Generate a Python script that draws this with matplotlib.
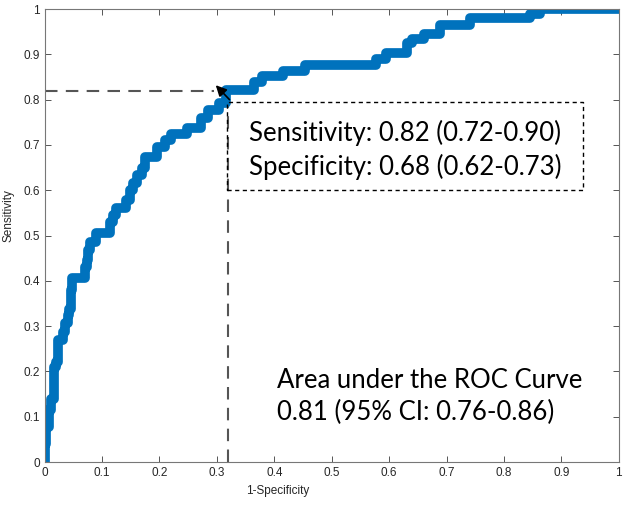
import numpy as np
import matplotlib
matplotlib.use("Agg")
import matplotlib.pyplot as plt
from matplotlib.patches import Rectangle

# ROC curve (step levels, held until next x)
fpr = [0.000, 0.001, 0.003, 0.007, 0.011, 0.016, 0.019, 0.023, 0.032, 0.036,
       0.040, 0.042, 0.046, 0.048, 0.071, 0.073, 0.076, 0.079, 0.090, 0.113,
       0.119, 0.125, 0.142, 0.148, 0.153, 0.160, 0.170, 0.174, 0.196, 0.210,
       0.220, 0.248, 0.272, 0.285, 0.304, 0.315, 0.364, 0.378, 0.416, 0.454,
       0.577, 0.594, 0.632, 0.640, 0.660, 0.688, 0.741, 0.845, 0.862, 1.000]
tpr = [0.000, 0.040, 0.077, 0.115, 0.140, 0.210, 0.220, 0.270, 0.288, 0.307,
       0.325, 0.337, 0.380, 0.406, 0.430, 0.447, 0.468, 0.485, 0.505, 0.530,
       0.545, 0.560, 0.578, 0.600, 0.615, 0.634, 0.650, 0.673, 0.696, 0.710,
       0.725, 0.737, 0.760, 0.777, 0.792, 0.822, 0.840, 0.852, 0.864, 0.876,
       0.890, 0.902, 0.925, 0.935, 0.946, 0.965, 0.980, 0.990, 1.000, 1.000]

cut_x = 0.32
cut_y = 0.82
ticks = [0, 0.1, 0.2, 0.3, 0.4, 0.5, 0.6, 0.7, 0.8, 0.9, 1]
tick_labels = ["0", "0.1", "0.2", "0.3", "0.4", "0.5", "0.6", "0.7", "0.8", "0.9", "1"]

box_lines = ["Sensitivity: 0.82 (0.72-0.90)", "Specificity: 0.68 (0.62-0.73)"]
auc_lines = ["Area under the ROC Curve", "0.81 (95% CI: 0.76-0.86)"]

fig = plt.figure(figsize=(6.24, 5.05), dpi=100)
ax = fig.add_axes([0.0716, 0.085, 0.9200, 0.897])

# cut-off guide lines
ax.plot([0, 0.295], [cut_y, cut_y], color="#555555", lw=1.5, dashes=(6, 4))
ax.plot([cut_x, cut_x], [0, cut_y], color="#555555", lw=1.5, dashes=(6, 4))

ax.step(fpr, tpr, where="post", color="#0072BD", lw=7, solid_capstyle="round",
        solid_joinstyle="round")

ax.annotate("", xy=(0.298, 0.832), xytext=(0.322, 0.800),
            arrowprops=dict(arrowstyle="-|>", color="black", lw=1.2,
                            mutation_scale=16, shrinkA=0, shrinkB=0))

ax.add_patch(Rectangle((0.317, 0.600), 0.620, 0.195, fill=False, ec="black",
                       lw=1.0, ls=(0, (3, 2.5)), zorder=3))

txt_font = dict(family=["Lato", "DejaVu Sans"], fontsize=18.5, color="black")
ax.text(0.356, 0.726, box_lines[0], va="center", ha="left", **txt_font)
ax.text(0.356, 0.651, box_lines[1], va="center", ha="left", **txt_font)
ax.text(0.404, 0.181, auc_lines[0], va="center", ha="left", **txt_font)
ax.text(0.404, 0.110, auc_lines[1], va="center", ha="left", **txt_font)

ax.set_xlim(0, 1)
ax.set_ylim(0, 1)
ax.set_xticks(ticks)
ax.set_xticklabels(tick_labels)
ax.set_yticks(ticks)
ax.set_yticklabels(tick_labels)
ax.tick_params(direction="in", length=4, width=0.7, colors="#555555",
               labelcolor="#262626", labelsize=8.5, top=True, right=True)
for lab in ax.get_xticklabels() + ax.get_yticklabels():
    lab.set_family(["Liberation Sans", "DejaVu Sans"])
for sp in ax.spines.values():
    sp.set_color("#777777")
    sp.set_linewidth(0.8)

ax.set_xlabel("1-Specificity", fontsize=8.5, family=["Liberation Sans"], color="#262626")
ax.set_ylabel("Sensitivity", fontsize=8.5, family=["Liberation Sans"], color="#262626")
ax.xaxis.set_label_coords(0.405, -0.05)
ax.yaxis.set_label_coords(-0.052, 0.545)

fig.savefig("out.png", dpi=100)
